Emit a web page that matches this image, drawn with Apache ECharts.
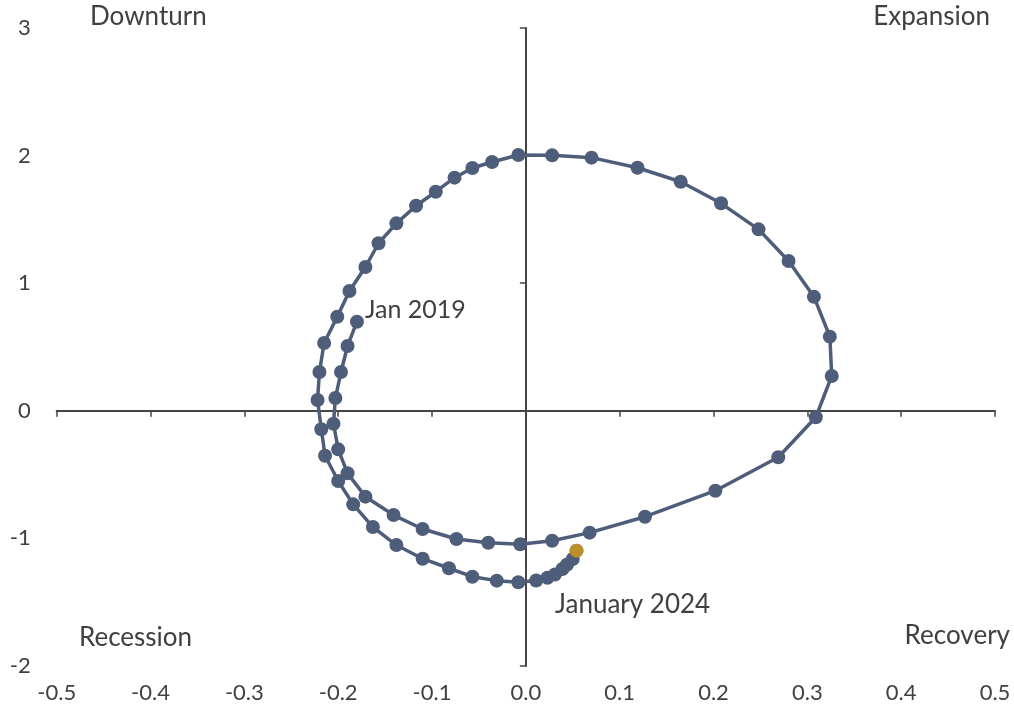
<!DOCTYPE html>
<html>
<head>
<meta charset="utf-8">
<script src="https://cdn.jsdelivr.net/npm/echarts@6/dist/echarts.min.js"></script>
<style>html,body{margin:0;padding:0;background:#fff;}#c{width:1014px;height:718px;}</style>
</head>
<body>
<div id="c"></div>
<script>
// Monthly cycle path, Jan 2019 .. Jan 2024 (x = momentum, y = level)
const xValues = [-0.180,-0.190,-0.197,-0.203,-0.205,-0.200,-0.190,-0.171,-0.141,-0.110,-0.074,-0.040,-0.006,0.028,0.068,0.127,0.202,0.269,0.309,0.326,0.324,0.307,0.280,0.248,0.208,0.165,0.119,0.070,0.028,-0.008,-0.036,-0.057,-0.076,-0.096,-0.117,-0.138,-0.157,-0.171,-0.188,-0.201,-0.215,-0.220,-0.222,-0.218,-0.214,-0.200,-0.184,-0.163,-0.138,-0.110,-0.082,-0.057,-0.031,-0.008,0.011,0.023,0.031,0.039,0.044,0.050,0.054];
const yValues = [0.698,0.508,0.304,0.100,-0.101,-0.302,-0.490,-0.673,-0.817,-0.926,-1.005,-1.034,-1.046,-1.018,-0.955,-0.830,-0.626,-0.364,-0.051,0.273,0.581,0.894,1.174,1.422,1.626,1.795,1.905,1.984,2.002,2.005,1.950,1.903,1.827,1.717,1.607,1.469,1.313,1.127,0.939,0.737,0.531,0.304,0.085,-0.145,-0.352,-0.550,-0.733,-0.911,-1.052,-1.159,-1.234,-1.300,-1.331,-1.344,-1.330,-1.308,-1.283,-1.240,-1.205,-1.161,-1.096];
const xTicks = ['-0.5','-0.4','-0.3','-0.2','-0.1','0.0','0.1','0.2','0.3','0.4','0.5'];
const quadrantLabels = ['Downturn','Expansion','Recession','Recovery'];
const pointLabels = ['Jan 2019','January 2024'];

const path = xValues.map((x, i) => [x, yValues[i]]);
const latest = [path[path.length - 1]];

const FONT = 'Lato';
const TXT = '#404040';
const AX = '#454545';
const chart = echarts.init(document.getElementById('c'), null, {renderer: 'canvas'});

function qText(text, x, y, align, size) {
  return {type: 'text', x: x, y: y, style: {text: text, font: size + 'px ' + FONT, fill: TXT, textAlign: align, textVerticalAlign: 'middle'}};
}

chart.setOption({
  animation: false,
  backgroundColor: '#ffffff',
  grid: {left: 56.7, right: 19, top: 28, bottom: 52, containLabel: false},
  xAxis: [
    {type: 'value', min: -0.5, max: 0.5, interval: 0.1,
     axisLine: {show: true, onZero: true, onZeroAxisIndex: 0, lineStyle: {color: AX, width: 2}},
     axisTick: {show: true, length: 6, lineStyle: {color: AX, width: 1.5}},
     axisLabel: {show: false}, splitLine: {show: false}},
    {type: 'value', min: -0.5, max: 0.5, interval: 0.1, position: 'bottom',
     axisLine: {show: false, onZero: false}, axisTick: {show: false}, splitLine: {show: false},
     axisLabel: {show: true, margin: 16, color: TXT, fontFamily: FONT, fontSize: 22,
                 formatter: (v) => xTicks[Math.round((v + 0.5) * 10)]}}
  ],
  yAxis: [
    {type: 'value', min: -2, max: 3, interval: 1,
     axisLine: {show: true, onZero: true, onZeroAxisIndex: 0, lineStyle: {color: AX, width: 2}},
     axisTick: {show: true, length: 6, lineStyle: {color: AX, width: 1.5}},
     axisLabel: {show: false}, splitLine: {show: false}},
    {type: 'value', min: -2, max: 3, interval: 1, position: 'left',
     axisLine: {show: false, onZero: false}, axisTick: {show: false}, splitLine: {show: false},
     axisLabel: {show: true, margin: 26, color: TXT, fontFamily: FONT, fontSize: 22}}
  ],
  series: [
    {type: 'line', xAxisIndex: 0, yAxisIndex: 0, data: path, symbol: 'circle', symbolSize: 14,
     lineStyle: {color: '#4E5D79', width: 3.5}, itemStyle: {color: '#4E5D79'}, z: 3},
    {type: 'scatter', xAxisIndex: 0, yAxisIndex: 0, data: latest, symbol: 'circle', symbolSize: 14,
     itemStyle: {color: '#D69E16'}, z: 4}
  ],
  graphic: [
    qText(quadrantLabels[0], 90, 17, 'left', 26),
    qText(quadrantLabels[1], 990, 17, 'right', 26),
    qText(quadrantLabels[2], 79, 638, 'left', 26),
    qText(quadrantLabels[3], 1010, 636, 'right', 26),
    qText(pointLabels[0], 365, 310, 'left', 25),
    qText(pointLabels[1], 555, 605, 'left', 26)
  ]
});
</script>
</body>
</html>
